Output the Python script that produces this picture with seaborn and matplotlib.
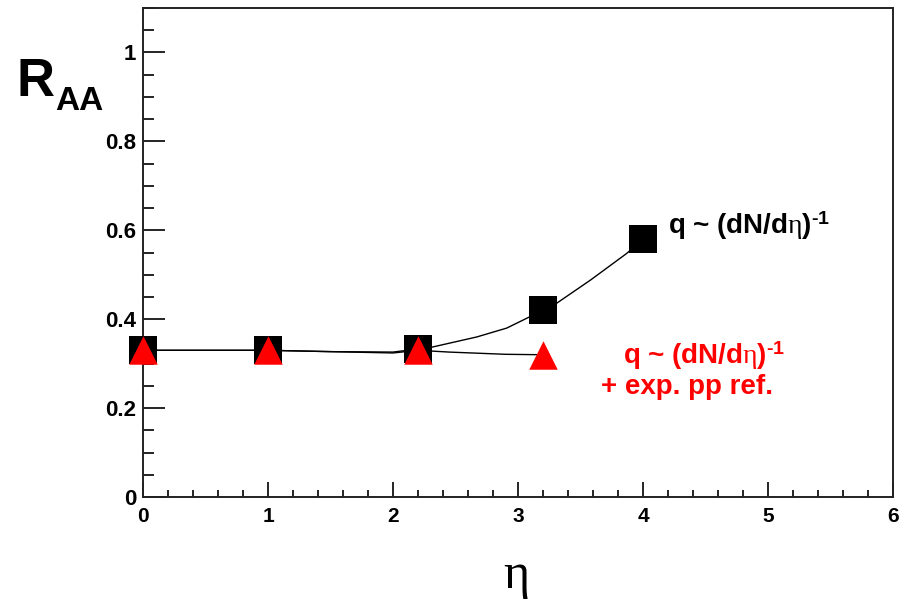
import numpy as np
import pandas as pd
import matplotlib
matplotlib.use("Agg")
import matplotlib.pyplot as plt
from matplotlib.ticker import MultipleLocator, FuncFormatter
import seaborn as sns

# data
eta_sq = [0.0, 1.0, 2.2, 3.2, 4.0]
raa_sq = [0.33, 0.33, 0.333, 0.42, 0.58]
eta_tri = [0.0, 1.0, 2.2, 3.2]
raa_tri = [0.33, 0.33, 0.33, 0.32]

# smooth curves as drawn in the reference
eta_curve_sq = [0.0, 1.0, 1.5, 2.0, 2.2, 2.31, 2.67, 2.91, 3.2, 3.31, 3.58, 3.87, 4.0]
raa_curve_sq = [0.33, 0.33, 0.327, 0.326, 0.333, 0.337, 0.36, 0.38, 0.42, 0.436, 0.488, 0.548, 0.58]
eta_curve_tri = [0.0, 1.0, 1.5, 2.0, 2.2, 2.45, 2.9, 3.2]
raa_curve_tri = [0.33, 0.33, 0.327, 0.324, 0.33, 0.326, 0.321, 0.32]

sns.set_theme(style="white")
plt.rcParams['font.family'] = ['Liberation Sans', 'DejaVu Sans']
plt.rcParams['mathtext.fontset'] = 'custom'
plt.rcParams['mathtext.rm'] = 'Liberation Sans:bold'
plt.rcParams['mathtext.it'] = 'Liberation Serif'
plt.rcParams['mathtext.bf'] = 'Liberation Sans:bold'
plt.rcParams['text.color'] = 'black'

fig = plt.figure(figsize=(9.10, 6.03), dpi=100)
ax = fig.add_axes([143 / 910, 1 - 497 / 603, 750 / 910, 489 / 603])

sns.lineplot(x=eta_curve_sq, y=raa_curve_sq, color='black', lw=1.0, sort=False, ax=ax)
sns.lineplot(x=eta_curve_tri, y=raa_curve_tri, color='black', lw=1.0, sort=False, ax=ax)
sns.scatterplot(x=eta_sq, y=raa_sq, marker='s', s=400, color='black', linewidth=0,
                ax=ax, zorder=3, clip_on=False)
sns.scatterplot(x=eta_tri, y=raa_tri, marker='^', s=420, color='red', linewidth=0,
                ax=ax, zorder=4, clip_on=False)

ax.set_xlim(0, 6)
ax.set_ylim(0, 1.1)
ax.xaxis.set_major_locator(MultipleLocator(1))
ax.xaxis.set_minor_locator(MultipleLocator(0.2))
ax.yaxis.set_major_locator(MultipleLocator(0.2))
ax.yaxis.set_minor_locator(MultipleLocator(0.05))
ax.yaxis.set_major_formatter(FuncFormatter(lambda v, p: '%g' % round(v, 2)))
ax.xaxis.set_major_formatter(FuncFormatter(lambda v, p: '%g' % v))

ax.tick_params(which='both', direction='in', bottom=True, left=True, top=False, right=False,
               width=1.2, color='black', labelcolor='black')
ax.tick_params(axis='y', which='major', length=16, pad=5, labelsize=16)
ax.tick_params(axis='y', which='minor', length=8)
ax.tick_params(axis='x', which='major', length=11, pad=7, labelsize=15)
ax.tick_params(axis='x', which='minor', length=5)
for lab in ax.get_xticklabels() + ax.get_yticklabels():
    lab.set_fontweight('bold')
for sp in ax.spines.values():
    sp.set_linewidth(1.4)
    sp.set_color('#222222')
ax.set_xlabel('')
ax.set_ylabel('')

# axis titles
fig.text(17 / 910, 1 - 96 / 603, 'R', fontsize=38, fontweight='bold', ha='left', va='baseline')
fig.text(55 / 910, 1 - 110 / 603, 'AA', fontsize=24, fontweight='bold', ha='left', va='baseline')
fig.text(516 / 910, 1 - 588 / 603, 'η', fontsize=36, family='Liberation Serif', ha='center', va='baseline')

# curve annotations
lab = r'q ~ (dN/d$\eta$)$^{\text{-1}}$'
fig.text(668 / 910, 1 - 234 / 603, lab, fontsize=20, fontweight='bold',
         color='black', ha='left', va='baseline')
fig.text(704 / 910, 1 - 364 / 603, lab, fontsize=20, fontweight='bold',
         color='red', ha='center', va='baseline')
fig.text(687 / 910, 1 - 394 / 603, '+ exp. pp ref.', fontsize=20, fontweight='bold',
         color='red', ha='center', va='baseline')

fig.savefig('out.png', dpi=100)
